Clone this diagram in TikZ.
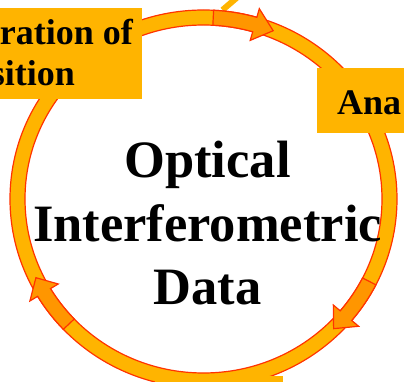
\documentclass[tikz,border=0pt]{standalone}
\usepackage{fontspec}
\setmainfont{Liberation Serif}
\definecolor{ringfill}{RGB}{255,180,0}
\definecolor{ringline}{RGB}{255,51,0}
\definecolor{arrowfill}{RGB}{255,150,0}
\newcommand\ringarrow[3]{%
  \path[arrowstyle] (#1:193.5pt and 189pt)
    arc[start angle=#1, end angle=#2, x radius=193.5pt, y radius=189pt]
    -- (#2:202.5pt and 198pt) -- (#3:186pt and 181.5pt) -- (#2:169.5pt and 165pt)
    -- (#2:178.5pt and 174pt)
    arc[start angle=#2, end angle=#1, x radius=178.5pt, y radius=174pt] -- cycle;}
\begin{document}
\begin{tikzpicture}[x=1pt,y=1pt,
  ringstyle/.style={fill=ringfill, draw=ringline, line width=1.2pt, even odd rule},
  arrowstyle/.style={fill=arrowfill, draw=ringline, line width=1.2pt, line join=miter},
  boxstyle/.style={rectangle, fill=ringfill, inner sep=0pt, outer sep=0pt, draw=none},
  bigtext/.style={font=\fontsize{52.5}{63}\selectfont\bfseries, inner sep=0pt},
  boxtext/.style={font=\fontsize{36}{41}\selectfont\bfseries, inner sep=0pt}]
\useasboundingbox (-203.5,-183) rectangle (200.5,199);
\clip (-203.5,-183) rectangle (200.5,199);
% stub of an outer connector
\coordinate (la) at (19,189);
\coordinate (lb) at (40,207);
\draw[ringfill, line width=6pt] (la) -- (lb);
% ring
\path[ringstyle] (0,0) ellipse[x radius=193.5pt, y radius=189pt]
                 (0,0) ellipse[x radius=178.5pt, y radius=174pt];
% arrows on the ring
\ringarrow{87}{74}{68}
\ringarrow{-27}{-40}{-45.6}
\ringarrow{223.6}{211}{205.7}
% boxes
\node[boxstyle, minimum width=142pt, minimum height=91pt] (box1) at (-132.5,145.5) {};
\node[boxstyle, minimum width=96.5pt, minimum height=65pt] (box2) at (161.75,98.5) {};
\node[boxstyle, minimum width=128pt, minimum height=13pt] (box3) at (15.5,-183.5) {};
% box texts
\node[boxtext, anchor=base east] (tl1) at (-70.5,154) {ration of};
\node[boxtext, anchor=base east] (tl2) at (-128.5,113) {sition};
\node[boxtext, anchor=base west] (r1) at (133.5,84) {Ana};
% centre text
\node[bigtext, anchor=base] (c1) at (4,21) {Optical};
\node[bigtext, anchor=base] (c2) at (4,-43) {Interferometric};
\node[bigtext, anchor=base] (c3) at (4,-106) {Data};
\end{tikzpicture}
\end{document}
